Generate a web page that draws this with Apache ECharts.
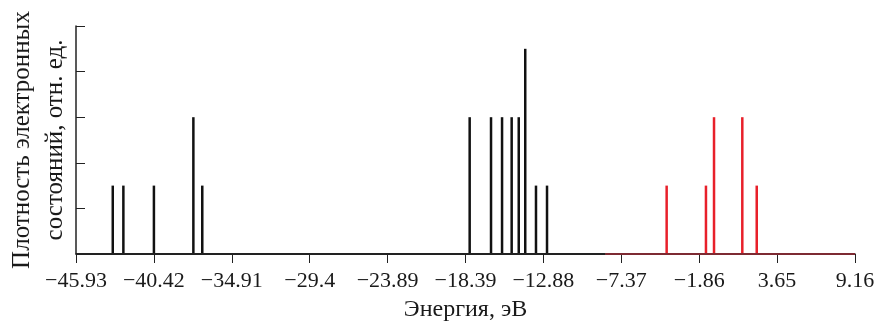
<!DOCTYPE html>
<html>
<head>
<meta charset="utf-8">
<script src="https://cdn.jsdelivr.net/npm/echarts@6/dist/echarts.min.js"></script>
<style>
  html, body { margin: 0; padding: 0; background: #fff; }
  #chart { width: 875px; height: 322px; }
</style>
</head>
<body>
<div id="chart"></div>
<script>
// energies (eV) and peak heights
const occupiedEnergy = [-43.33, -42.58, -40.42, -37.63, -37.0, -18.09, -16.58, -15.8, -15.12, -14.62, -14.16, -13.4, -12.62]
const occupiedHeight = [1.5, 1.5, 1.5, 3, 1.5, 3, 3, 3, 3, 3, 4.5, 1.5, 1.5]
const virtualEnergy = [-4.16, -1.38, -0.81, 1.19, 2.21]
const virtualHeight = [1.5, 1.5, 3, 3, 1.5]
const xTicks = [-45.93, -40.42, -34.91, -29.4, -23.89, -18.39, -12.88, -7.37, -1.86, 3.65, 9.16]
const splitEnergy = -8.5

const font = 'Liberation Serif'
const chart = echarts.init(document.getElementById('chart'))

const peaks = occupiedEnergy.map((e, i) => ({ value: [e, occupiedHeight[i]], itemStyle: { color: '#111' } }))
    .concat(virtualEnergy.map((e, i) => ({ value: [e, virtualHeight[i]], itemStyle: { color: '#e8202a' } })))

chart.setOption({
    backgroundColor: '#fff',
    animation: false,
    grid: { left: 76, right: 20, top: 26, bottom: 68, outerBoundsMode: 'none' },
    xAxis: {
        type: 'value',
        min: xTicks[0],
        max: xTicks[xTicks.length - 1],
        name: 'Энергия, эВ',
        nameLocation: 'middle',
        nameGap: 44,
        nameTextStyle: { fontFamily: font, fontSize: 24, color: '#1a1a1a' },
        axisLine: { lineStyle: { color: '#222', width: 1.5 } },
        axisTick: { show: true, length: 9, customValues: xTicks, lineStyle: { color: '#222' } },
        axisLabel: {
            customValues: xTicks,
            margin: 16,
            fontFamily: font,
            fontSize: 22,
            color: '#1a1a1a',
            formatter: (v) => String(v).replace('-', '\u2212'),
        },
        splitLine: { show: false },
    },
    yAxis: {
        type: 'value',
        min: 0,
        max: 5,
        interval: 1,
        name: 'Плотность электронных\nсостояний, отн. ед.',
        nameLocation: 'middle',
        nameGap: 4,
        nameTextStyle: { fontFamily: font, fontSize: 25, color: '#1a1a1a', lineHeight: 33 },
        axisLine: { show: true, onZero: false, lineStyle: { color: '#222', width: 1.5 } },
        axisTick: { show: true, inside: true, length: 9, lineStyle: { color: '#222' } },
        axisLabel: { show: false },
        splitLine: { show: false },
    },
    series: [
        {
            type: 'line',
            data: [[xTicks[0], 0], [splitEnergy, 0]],
            symbol: 'none',
            lineStyle: { color: '#222', width: 2 },
        },
        {
            type: 'line',
            data: [[splitEnergy, 0], [xTicks[xTicks.length - 1], 0]],
            symbol: 'none',
            lineStyle: { color: '#7d2a32', width: 2 },
        },
        {
            type: 'bar',
            data: peaks,
            barWidth: 2.5,
        },
    ],
})
</script>
</body>
</html>
